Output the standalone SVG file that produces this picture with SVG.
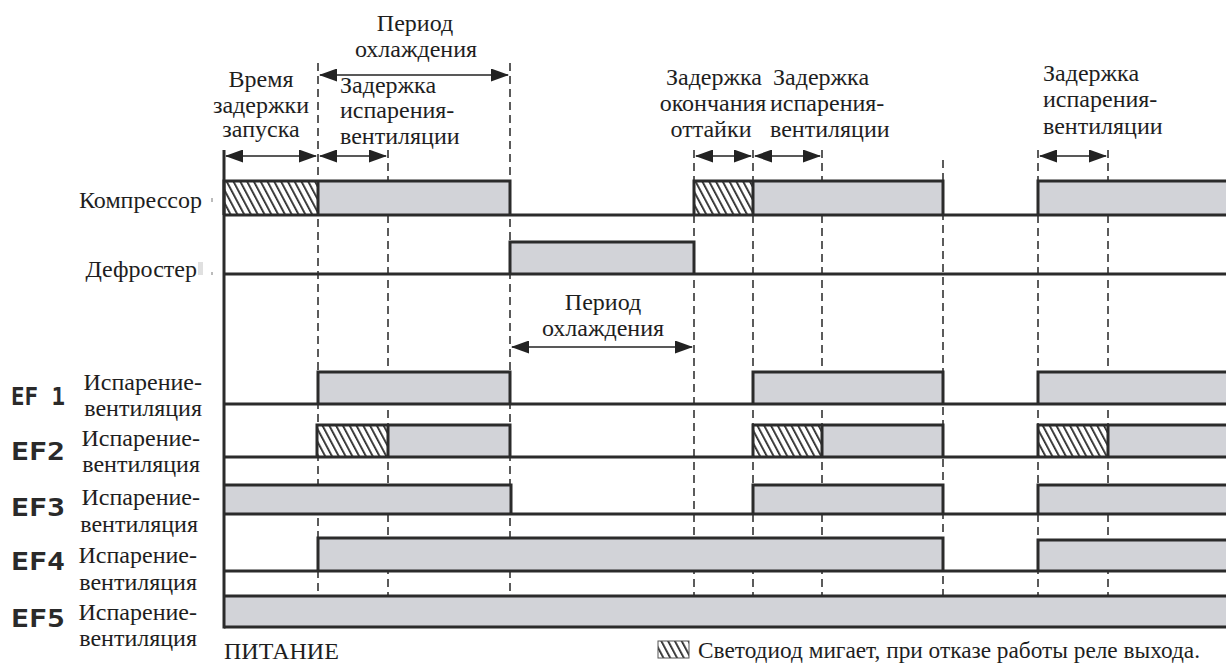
<svg xmlns="http://www.w3.org/2000/svg" width="1226" height="664" viewBox="0 0 1226 664">
<defs>
<style>
.t{font-family:"Liberation Serif","Times New Roman",serif;font-size:24px;fill:#1e1e1e}
.ef{font-family:"DejaVu Sans Mono","Liberation Mono",monospace;font-size:25px;font-weight:bold;fill:#2a2a2a}
.ax{stroke:#2b2b2b;stroke-width:3;fill:none}
.bx{fill:#d2d3d8;stroke:none}
.hx{fill:url(#hatch);stroke:none}
.ol{stroke:#2b2b2b;stroke-width:3;fill:none;stroke-linejoin:miter}
.dash{stroke:#333;stroke-width:1.6;stroke-dasharray:8 5;fill:none}
.arr{stroke:#222;stroke-width:1.6;fill:none;marker-start:url(#ah);marker-end:url(#ah)}
</style>
<pattern id="hatch" patternUnits="userSpaceOnUse" width="6" height="12" patternTransform="rotate(-28)">
<rect width="6" height="12" fill="#ffffff"/>
<rect x="0" y="0" width="1.8" height="12" fill="#2b2b2b"/>
</pattern>
<marker id="ah" viewBox="0 0 18 13" refX="17" refY="6.5" markerWidth="18" markerHeight="13" markerUnits="userSpaceOnUse" orient="auto-start-reverse">
<path d="M0,0 L18,6.5 L0,13 Z" fill="#222"/>
</marker>
</defs>
<rect width="1226" height="664" fill="#ffffff"/>

<g id="gridlines">
<line class="dash" x1="318" y1="63" x2="318" y2="596"/>
<line class="dash" x1="388" y1="150" x2="388" y2="596"/>
<line class="dash" x1="510" y1="63" x2="510" y2="596"/>
<line class="dash" x1="694" y1="150" x2="694" y2="596"/>
<line class="dash" x1="753" y1="150" x2="753" y2="596"/>
<line class="dash" x1="822" y1="150" x2="822" y2="596"/>
<line class="dash" x1="943" y1="160" x2="943" y2="596"/>
<line class="dash" x1="1038" y1="150" x2="1038" y2="596"/>
<line class="dash" x1="1108" y1="150" x2="1108" y2="596"/>
</g>

<g id="annotations">
<text class="t" x="415" y="31" text-anchor="middle">Период</text>
<text class="t" x="416" y="57" text-anchor="middle">охлаждения</text>
<text class="t" x="261" y="87" text-anchor="middle">Время</text>
<text class="t" x="261" y="113" text-anchor="middle">задержки</text>
<text class="t" x="261" y="137" text-anchor="middle">запуска</text>
<text class="t" x="340" y="93">Задержка</text>
<text class="t" x="340" y="118">испарения-</text>
<text class="t" x="340" y="144">вентиляции</text>
<text class="t" x="714" y="85" text-anchor="middle">Задержка</text>
<text class="t" x="713" y="111" text-anchor="middle">окончания</text>
<text class="t" x="711" y="137" text-anchor="middle">оттайки</text>
<text class="t" x="773" y="85">Задержка</text>
<text class="t" x="770" y="111">испарения-</text>
<text class="t" x="770" y="137">вентиляции</text>
<text class="t" x="1043" y="81">Задержка</text>
<text class="t" x="1043" y="107">испарения-</text>
<text class="t" x="1043" y="134">вентиляции</text>
<text class="t" x="603" y="310" text-anchor="middle">Период</text>
<text class="t" x="603" y="336" text-anchor="middle">охлаждения</text>
</g>

<g id="connectors">
<line class="arr" x1="320" y1="75" x2="508" y2="75"/>
<line class="arr" x1="226" y1="156" x2="316" y2="156"/>
<line class="arr" x1="320" y1="156" x2="386" y2="156"/>
<line class="arr" x1="696" y1="156" x2="751" y2="156"/>
<line class="arr" x1="755" y1="156" x2="820" y2="156"/>
<line class="arr" x1="1040" y1="156" x2="1106" y2="156"/>
<line class="arr" x1="512" y1="347" x2="692" y2="347"/>
</g>

<g id="compressor">
<text class="t" x="202" y="208" text-anchor="end">Компрессор</text>
<rect x="211" y="198" width="2" height="4" fill="#bbb"/>
<rect class="hx" x="224" y="181" width="94" height="34"/>
<rect class="bx" x="318" y="181" width="192" height="34"/>
<rect class="hx" x="694" y="181" width="59" height="34"/>
<rect class="bx" x="753" y="181" width="190" height="34"/>
<rect class="bx" x="1038" y="181" width="190" height="34"/>
<path class="ol" d="M224,215 V181 H510 V215 M318,181 V215 M694,215 V181 H943 V215 M753,181 V215 M1038,215 V181 H1230"/>
<line class="ax" x1="224" y1="215" x2="1226" y2="215"/>
</g>

<g id="defroster">
<text class="t" x="197" y="277" text-anchor="end">Дефростер</text>
<rect x="198" y="262" width="5" height="13" fill="#e0e0e0"/>
<rect x="211" y="272" width="2" height="3" fill="#bbb"/>
<rect class="bx" x="510" y="242" width="184" height="32"/>
<path class="ol" d="M510,274 V242 H694 V274"/>
<line class="ax" x1="224" y1="274" x2="1226" y2="274"/>
</g>

<g id="ef1">
<text class="ef" x="11" y="405" textLength="54" lengthAdjust="spacingAndGlyphs">EF 1</text>
<text class="t" x="202" y="390" text-anchor="end">Испарение-</text>
<text class="t" x="202" y="416" text-anchor="end">вентиляция</text>
<rect class="bx" x="318" y="372" width="192" height="32"/>
<rect class="bx" x="753" y="372" width="190" height="32"/>
<rect class="bx" x="1038" y="372" width="190" height="32"/>
<path class="ol" d="M318,404 V372 H510 V404 M753,404 V372 H943 V404 M1038,404 V372 H1230"/>
<line class="ax" x1="224" y1="404" x2="1226" y2="404"/>
</g>

<g id="ef2">
<text class="ef" x="11" y="460" textLength="54" lengthAdjust="spacingAndGlyphs">EF2</text>
<text class="t" x="200" y="446" text-anchor="end">Испарение-</text>
<text class="t" x="200" y="472" text-anchor="end">вентиляция</text>
<rect class="hx" x="317" y="425" width="71" height="32"/>
<rect class="bx" x="388" y="425" width="122" height="32"/>
<rect class="hx" x="753" y="425" width="69" height="32"/>
<rect class="bx" x="822" y="425" width="121" height="32"/>
<rect class="hx" x="1038" y="425" width="70" height="32"/>
<rect class="bx" x="1108" y="425" width="120" height="32"/>
<path class="ol" d="M317,457 V425 H510 V457 M388,425 V457 M753,457 V425 H943 V457 M822,425 V457 M1038,457 V425 H1230 M1108,425 V457"/>
<line class="ax" x1="224" y1="457" x2="1226" y2="457"/>
</g>

<g id="ef3">
<text class="ef" x="11" y="516" textLength="54" lengthAdjust="spacingAndGlyphs">EF3</text>
<text class="t" x="200" y="505" text-anchor="end">Испарение-</text>
<text class="t" x="198" y="532" text-anchor="end">вентиляция</text>
<rect class="bx" x="224" y="485" width="287" height="29"/>
<rect class="bx" x="753" y="485" width="190" height="29"/>
<rect class="bx" x="1038" y="485" width="190" height="29"/>
<path class="ol" d="M224,485 H511 V514 M753,514 V485 H943 V514 M1038,514 V485 H1230"/>
<line class="ax" x1="224" y1="514" x2="1226" y2="514"/>
</g>

<g id="ef4">
<text class="ef" x="11" y="570" textLength="54" lengthAdjust="spacingAndGlyphs">EF4</text>
<text class="t" x="197" y="563" text-anchor="end">Испарение-</text>
<text class="t" x="197" y="590" text-anchor="end">вентиляция</text>
<rect class="bx" x="318" y="538" width="625" height="33"/>
<rect class="bx" x="1038" y="540" width="190" height="31"/>
<path class="ol" d="M318,571 V538 H943 V571 M1038,571 V540 H1230"/>
<line class="ax" x1="224" y1="571" x2="1226" y2="571"/>
</g>

<g id="ef5">
<text class="ef" x="11" y="627" textLength="54" lengthAdjust="spacingAndGlyphs">EF5</text>
<text class="t" x="197" y="620" text-anchor="end">Испарение-</text>
<text class="t" x="197" y="646" text-anchor="end">вентиляция</text>
<rect class="bx" x="224" y="596" width="1004" height="31"/>
<path class="ol" d="M1230,596 H224 M224,627 H1230"/>
</g>

<g id="axis">
<line class="ax" x1="224" y1="150" x2="224" y2="628.5"/>
</g>

<g id="footer">
<text class="t" x="224" y="659">ПИТАНИЕ</text>
<rect class="hx" x="658" y="641" width="31" height="17"/>
<rect x="658" y="641" width="31" height="17" fill="none" stroke="#555" stroke-width="1"/>
<text class="t" x="698" y="658" textLength="502" lengthAdjust="spacingAndGlyphs">Светодиод мигает, при отказе работы реле выхода.</text>
</g>
</svg>
